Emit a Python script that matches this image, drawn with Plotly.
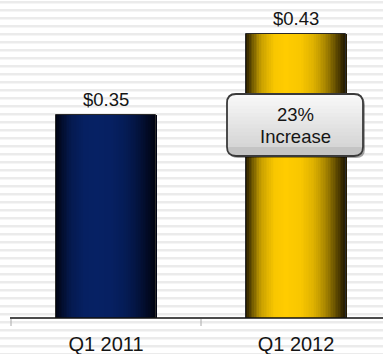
import numpy as np
import plotly.graph_objects as go

# Earnings per share, first quarter
quarters = ["Q1 2011", "Q1 2012"]
eps = [0.35, 0.43]

# gradient colours: (edge, peak) per bar
edge_colors = [(0, 2, 14), (26, 18, 0)]
peak_colors = [(6, 33, 100), (255, 204, 0)]

W, H = 383, 354
MB = 36
PLOT_H = H - MB
CAT_PX = 190          # pixel width of one category slot
FIRST_EDGE = 11       # pixel position of the left edge of the first slot
AXIS_LEFT = 10        # axis line start
Y_RANGE = [0.15, 0.464]
BAR_W = 0.53
N_SLICES = 60

# horizontal shading profile across a bar (0 = left edge, 1 = right edge)
prof_t = [0.0, 0.05, 0.15, 0.28, 0.4, 0.55, 0.68, 0.8, 0.9, 0.97, 1.0]
prof_b = [0.02, 0.3, 0.75, 0.97, 1.0, 0.97, 0.85, 0.6, 0.3, 0.08, 0.03]


def mix(c0, c1, f):
    return "rgb(%d,%d,%d)" % tuple(round(a + (b - a) * f) for a, b in zip(c0, c1))


fig = go.Figure()

slice_w = BAR_W / N_SLICES
for i in range(N_SLICES):
    t = (i + 0.5) / N_SLICES
    b = float(np.interp(t, prof_t, prof_b))
    fig.add_trace(go.Bar(
        x=quarters, y=eps,
        width=slice_w * 1.6,
        offset=-BAR_W / 2 + i * slice_w,
        marker=dict(color=[mix(edge_colors[k], peak_colors[k], b) for k in range(2)],
                    line=dict(width=0)),
        hoverinfo="skip", showlegend=False,
    ))

# thin outline around each bar
fig.add_trace(go.Bar(
    x=quarters, y=eps, width=BAR_W,
    marker=dict(color="rgba(0,0,0,0)", line=dict(color="#2a2a2a", width=1)),
    hoverinfo="skip", showlegend=False,
))

# value labels above bars
for q, v in zip(quarters, eps):
    fig.add_annotation(x=q, y=v, xref="x", yref="y", text="$%.2f" % v,
                       showarrow=False, yanchor="bottom", yshift=3,
                       font=dict(family="Liberation Sans, Arial", size=18.5, color="#151515"))

shapes = []
# striped background: one path made of thin horizontal bands (pixel units from top-left)
stripe_path = ""
for k in range(45):
    top = -(1 + 8 * k)
    stripe_path += f"M-5,{top} L{W + 5},{top} L{W + 5},{top - 2.5} L-5,{top - 2.5} Z "
shapes.append(dict(type="path", xref="paper", yref="paper", layer="below",
                   xsizemode="pixel", ysizemode="pixel", xanchor=0, yanchor=1,
                   path=stripe_path, fillcolor="#ebebeb", line=dict(width=0)))

# category axis baseline
shapes.append(dict(type="line", xref="paper", yref="paper", layer="above",
                   x0=AXIS_LEFT / W, x1=1.0, y0=0, y1=0,
                   line=dict(color="#111", width=1.5)))

# tick marks on the category boundaries
for j in range(len(quarters)):
    shapes.append(dict(type="line", xref="x", yref="paper", layer="above",
                       ysizemode="pixel", yanchor=0,
                       x0=j - 0.5, x1=j - 0.5, y0=-1, y1=-8,
                       line=dict(color="#aaa", width=1)))


def rounded(x0, x1, y0, y1, r, round_bottom=True):
    # y is pixel offset, positive upwards (y1 > y0)
    p = f"M{x0 + r},{y1} L{x1 - r},{y1} Q{x1},{y1} {x1},{y1 - r} "
    if round_bottom:
        p += f"L{x1},{y0 + r} Q{x1},{y0} {x1 - r},{y0} L{x0 + r},{y0} Q{x0},{y0} {x0},{y0 + r} "
    else:
        p += f"L{x1},{y0} L{x0},{y0} "
    p += f"L{x0},{y1 - r} Q{x0},{y1} {x0 + r},{y1} Z"
    return p


# callout box on the 2012 bar
box_cy = (PLOT_H - 125) / PLOT_H
bx0, bx1, by0, by1, rad = -69, 67, -31, 31, 9
anchor = dict(xref="x", yref="paper", xsizemode="pixel", ysizemode="pixel",
              xanchor=1, yanchor=box_cy, layer="above")
shapes.append(dict(type="path", path=rounded(bx0 + 2, bx1 + 2, by0 - 2, by1 - 2, rad),
                   fillcolor="rgba(0,0,0,0.35)", line=dict(width=0), **anchor))
shapes.append(dict(type="path", path=rounded(bx0, bx1, by0, by1, rad),
                   fillcolor="#c4c4c4", line=dict(width=0), **anchor))
n_bands = 14
for j in range(n_bands):
    frac = j / (n_bands - 1)
    ybot = by0 + rad + (by1 - by0 - rad - 4) * frac
    col = mix((214, 214, 214), (248, 248, 248), frac)
    shapes.append(dict(type="path", path=rounded(bx0, bx1, ybot, by1, rad, round_bottom=False),
                       fillcolor=col, line=dict(width=0), **anchor))
shapes.append(dict(type="path", path=rounded(bx0, bx1, by0, by1, rad),
                   fillcolor="rgba(0,0,0,0)", line=dict(color="#3a3a3a", width=1.8), **anchor))

pct = round((eps[1] / eps[0] - 1) * 100)
for txt, py in [("%d%%" % pct, 114), ("Increase", 136)]:
    fig.add_annotation(x=quarters[1], xref="x", y=(PLOT_H - py) / PLOT_H, yref="paper",
                       xshift=-1, text=txt, showarrow=False, yanchor="middle",
                       font=dict(family="Liberation Sans, Arial", size=18.5, color="#151515"))

# x range so that each category slot spans CAT_PX pixels
x_lo = -0.5 - FIRST_EDGE / CAT_PX
x_hi = x_lo + W / CAT_PX

fig.update_layout(
    width=W, height=H,
    margin=dict(l=0, r=0, t=0, b=MB),
    barmode="overlay", bargap=0,
    dragmode=False,
    paper_bgcolor="white", plot_bgcolor="rgba(0,0,0,0)",
    shapes=shapes,
    xaxis=dict(type="category", range=[x_lo, x_hi], showgrid=False, zeroline=False,
               showline=False, ticks="", ticklabelstandoff=12, automargin=False,
               showspikes=False,
               tickfont=dict(family="Liberation Sans, Arial", size=20, color="#151515")),
    yaxis=dict(visible=False, range=Y_RANGE, automargin=False),
)

fig.write_html("out.html")
